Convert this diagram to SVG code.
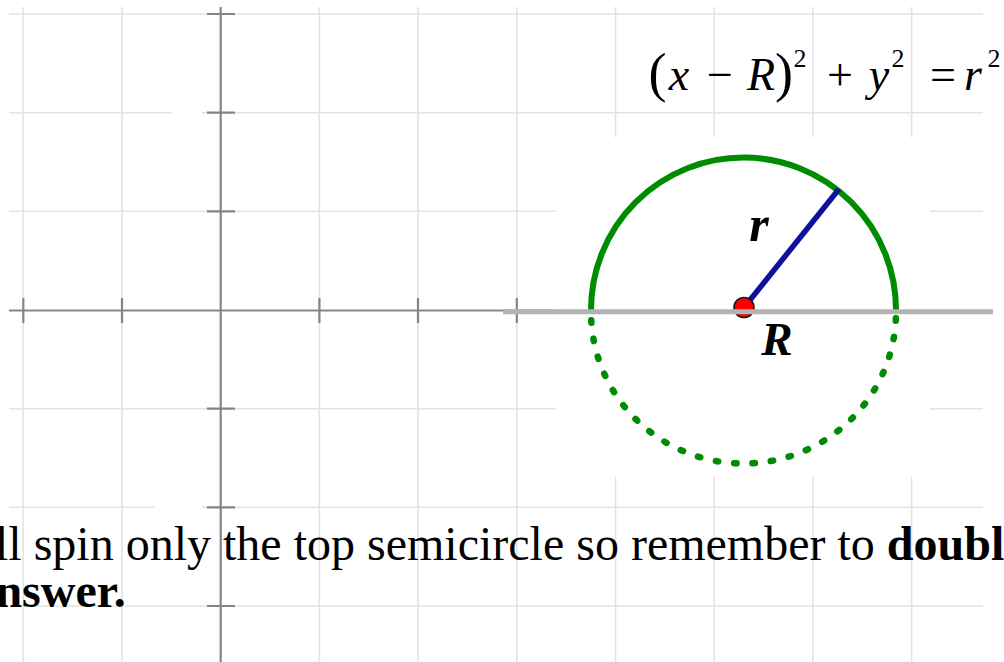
<svg xmlns="http://www.w3.org/2000/svg" width="1004" height="662" viewBox="0 0 1004 662">
<style>
.grid{stroke:#e3e3e3;stroke-width:1.6;fill:none}
.axis{stroke:#858585;stroke-width:2.2;fill:none}
.tick{stroke:#858585;stroke-width:2.2}
.serif{font-family:"Liberation Serif","Times New Roman",serif;fill:#000}
.it{font-style:italic}
.bi{font-style:italic;font-weight:bold}
</style>
<rect x="0" y="0" width="1004" height="662" fill="#ffffff"/>
<g id="grid">
  <path class="grid" d="M23.3 7V662M122 7V662M319.4 7V662M418 7V662M516.8 7V662M615.5 7V662M714.2 7V662M812.9 7V662M911.6 7V662"/>
  <path class="grid" d="M9 14H983M9 112.7H172M202 112.7H983M9 211.3H983M9 408.7H983M9 507.3H155M202 507.3H983M9 606H983"/>
</g>
<g id="axes">
  <path class="axis" d="M220.7 7V662"/>
  <path class="axis" d="M9 310.5H556"/>
  <path class="tick" d="M207 14H235M207 112.7H235M207 211.3H235M207 408.7H235M207 507.3H235M207 606H235"/>
  <path class="tick" d="M23.3 298V323M122 298V323M319.4 298V323M418 298V323M516.8 298V323"/>
</g>
<rect id="patch" x="556" y="137" width="374" height="340" fill="#ffffff"/>
<g id="circle">
  <path d="M591 310A152.5 152.5 0 0 1 896 310" fill="none" stroke="#008c00" stroke-width="6"/>
  <path d="M591 312A151 150 0 0 0 896 312" fill="none" stroke="#008c00" stroke-width="6.5" stroke-linecap="round" stroke-dasharray="2.5 15.9" stroke-dashoffset="10"/>
  <line x1="744" y1="307.5" x2="839" y2="189" stroke="#10109a" stroke-width="5.5"/>
  <circle cx="744" cy="307.5" r="10" fill="#ff0000" stroke="#1a1a1a" stroke-width="1.6"/>
</g>
<line id="rotation-axis" x1="503" y1="311.7" x2="993" y2="311.7" stroke="#b3b3b3" stroke-width="5"/>
<g id="labels" class="serif bi">
  <text x="759" y="241" font-size="50" text-anchor="middle">r</text>
  <text x="777" y="355" font-size="47" text-anchor="middle">R</text>
</g>
<g id="equation" class="serif">
  <text x="657.5" y="91" font-size="54" text-anchor="middle">(</text>
  <text x="679" y="90" font-size="46" text-anchor="middle" class="it">x</text>
  <text x="720" y="90" font-size="46" text-anchor="middle">−</text>
  <text x="761" y="90" font-size="46" text-anchor="middle" class="it">R</text>
  <text x="784" y="91" font-size="54" text-anchor="middle">)</text>
  <text x="800" y="67" font-size="26" text-anchor="middle">2</text>
  <text x="840" y="90" font-size="46" text-anchor="middle">+</text>
  <text x="879" y="90" font-size="46" text-anchor="middle" class="it">y</text>
  <text x="898" y="67" font-size="26" text-anchor="middle">2</text>
  <text x="943" y="90" font-size="46" text-anchor="middle">=</text>
  <text x="973" y="90" font-size="46" text-anchor="middle" class="it">r</text>
  <text x="994" y="67" font-size="26" text-anchor="middle">2</text>
</g>
<g id="caption" class="serif" font-size="48">
  <text x="-5" y="560" xml:space="preserve">ll spin only the top semicircle so remember to <tspan font-weight="bold">double</tspan></text>
  <text x="-4.6" y="607" font-weight="bold">nswer.</text>
</g>
</svg>
